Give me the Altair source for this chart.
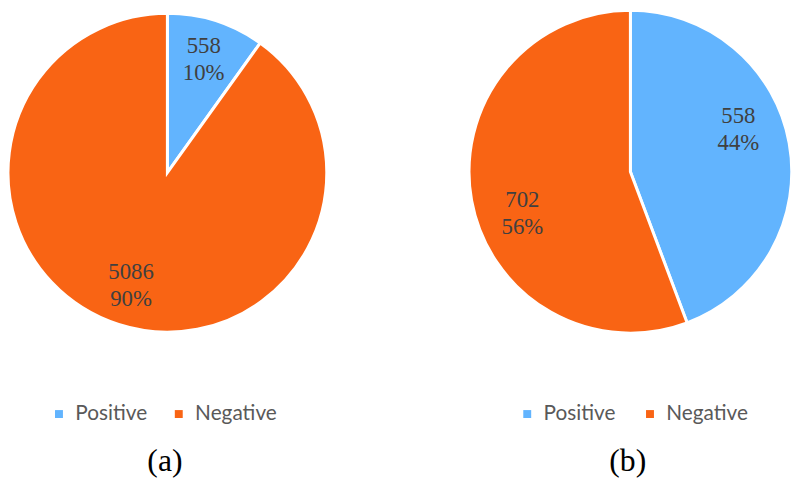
import math
import altair as alt
import pandas as pd

categories = ["Positive", "Negative"]
counts_a = [558, 5086]
counts_b = [558, 702]
captions = ["(a)", "(b)"]
colors = ["#62B4FE", "#F96414"]

LABEL_FONT = "Liberation Serif"


def pie_layers(counts, cx, cy, r_pie, r_lab, lab_shift, leg_x, leg_y, col_pad):
    df = pd.DataFrame({"category": categories, "count": counts})
    base = (
        alt.Chart(df)
        .transform_window(idx="row_number()")
        .transform_joinaggregate(total="sum(count)")
        .transform_calculate(
            label="datum.count + '\\n' + format(datum.count / datum.total, '.0%')"
        )
    )
    arc = base.mark_arc(outerRadius=r_pie, stroke="white", strokeWidth=3).encode(
        x=alt.value(cx),
        y=alt.value(cy),
        theta=alt.Theta("count:Q", stack=True),
        color=alt.Color(
            "category:N",
            scale=alt.Scale(domain=categories, range=colors),
            legend=alt.Legend(
                title=None,
                orient="none",
                legendX=leg_x,
                legendY=leg_y,
                padding=0,
                direction="horizontal",
                symbolType="square",
                symbolSize=64,
                symbolStrokeWidth=0,
                labelFont="Lato",
                labelFontSize=21,
                labelColor="#595959",
                labelOffset=6,
                columnPadding=col_pad,
            ),
        ),
        order=alt.Order("idx:Q"),
    )
    text = base.mark_text(
        radius=r_lab,
        font=LABEL_FONT,
        fontSize=23,
        lineHeight=27,
        lineBreak="\n",
        color="#404040",
        align="center",
        baseline="middle",
        dy=-13.5,
    ).encode(
        x=alt.value(cx),
        y=alt.value(cy),
        theta=alt.Theta(
            "count:Q",
            stack=True,
            scale=alt.Scale(range=[lab_shift, 2 * math.pi + lab_shift]),
        ),
        text="label:N",
        order=alt.Order("idx:Q"),
    )
    return [arc, text]


def caption_layer(caption, cx, cy):
    return (
        alt.Chart(pd.DataFrame({"caption": [caption]}))
        .mark_text(
            font=LABEL_FONT,
            fontSize=32,
            color="black",
            align="center",
            baseline="middle",
        )
        .encode(x=alt.value(cx), y=alt.value(cy), text="caption:N")
    )


layers = (
    pie_layers(counts_a, 161, 164, 161, 120, 0.0, 41, 397, 21)
    + pie_layers(counts_b, 628.7, 163, 163, 117, -0.19, 514, 397, 24)
    + [caption_layer(captions[0], 158.5, 455), caption_layer(captions[1], 626, 455)]
)

chart = (
    alt.layer(*layers)
    .resolve_scale(theta="independent", color="independent")
    .properties(
        width=797,
        height=474,
        padding=0,
        autosize=alt.AutoSizeParams(type="none"),
        background="white",
    )
    .configure_view(stroke=None)
)

chart.save("out.html", embed_options={"renderer": "svg", "actions": False})
